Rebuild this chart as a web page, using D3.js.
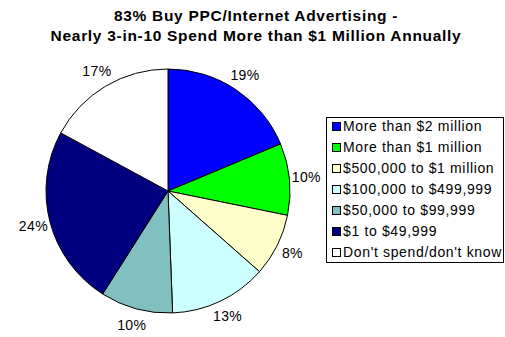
<!DOCTYPE html>
<html>
<head>
<meta charset="utf-8">
<script src="https://cdn.jsdelivr.net/npm/d3@7"></script>
<style>
  body { margin: 0; background: #fff; }
  svg { display: block; font-family: "Liberation Sans", Arial, sans-serif; }
</style>
</head>
<body>
<div id="chart"></div>
<script>
const titleLines = ['83% Buy PPC/Internet Advertising -', 'Nearly 3-in-10 Spend More than $1 Million Annually'];
const categories = ['More than $2 million', 'More than $1 million', '$500,000 to $1 million',
  '$100,000 to $499,999', '$50,000 to $99,999', '$1 to $49,999', "Don't spend/don't know"];
// slice shares (labels show them rounded)
const values = [18.7, 9.5, 8.3, 12.9, 9.6, 23.9, 17.1];
const colors = ['#0000ff', '#00ff00', '#ffffcc', '#ccffff', '#80c0c0', '#000080', '#ffffff'];

const width = 505, height = 337;
const cx = 168, cy = 191, r = 122;

const svg = d3.select('#chart').append('svg')
  .attr('width', width)
  .attr('height', height);

// title
svg.append('g').selectAll('text').data(titleLines).join('text')
  .attr('x', 256)
  .attr('y', (d, i) => 20.5 + i * 20)
  .attr('text-anchor', 'middle')
  .attr('font-size', 15.5)
  .attr('letter-spacing', 0.7)
  .attr('font-weight', 'bold')
  .text(d => d);

const data = categories.map((c, i) => ({ label: c, value: values[i], color: colors[i] }));

const pie = d3.pie().value(d => d.value).sort(null);
const arc = d3.arc().innerRadius(0).outerRadius(r);
const arcs = pie(data);

const g = svg.append('g').attr('transform', `translate(${cx},${cy})`);

g.selectAll('path').data(arcs).join('path')
  .attr('d', arc)
  .attr('fill', d => d.data.color)
  .attr('stroke', '#000')
  .attr('stroke-width', 1);

const labelR = r + 17;
g.selectAll('.pct').data(arcs).join('text')
  .attr('class', 'pct')
  .attr('x', d => labelR * Math.sin((d.startAngle + d.endAngle) / 2))
  .attr('y', d => -labelR * Math.cos((d.startAngle + d.endAngle) / 2))
  .attr('dy', '0.35em')
  .attr('text-anchor', 'middle')
  .attr('font-size', 14)
  .attr('letter-spacing', 0.4)
  .text(d => Math.round(d.data.value) + '%');

// legend
const legX = 326, legY = 117, legW = 177, legH = 145, rowH = 21;
const legend = svg.append('g');
legend.append('rect')
  .attr('x', legX + 0.5).attr('y', legY + 0.5)
  .attr('width', legW).attr('height', legH)
  .attr('fill', '#fff').attr('stroke', '#000');

const rows = legend.selectAll('.row').data(data).join('g')
  .attr('class', 'row')
  .attr('transform', (d, i) => `translate(${legX + 6},${legY + 9.5 + i * rowH})`);

rows.append('rect')
  .attr('x', 0.5).attr('y', -4)
  .attr('width', 8).attr('height', 8)
  .attr('fill', d => d.color)
  .attr('stroke', '#000');

rows.append('text')
  .attr('x', 11)
  .attr('y', 0)
  .attr('dy', '0.35em')
  .attr('font-size', 14)
  .attr('letter-spacing', 0.65)
  .text(d => d.label);
</script>
</body>
</html>
